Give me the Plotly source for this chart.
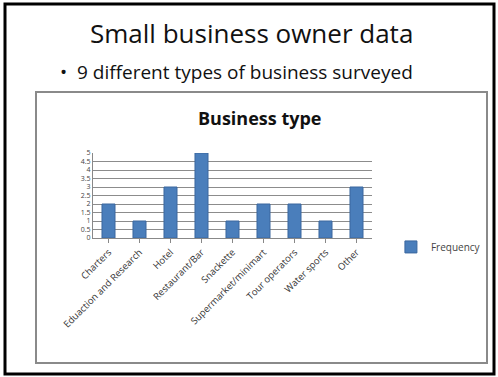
''' Small business owner data slide: business type bar chart '''

import plotly.graph_objects as go

categories = ['Charters', 'Eduaction and Research', 'Hotel', 'Restaurant/Bar', 'Snackette',
              'Supermarket/minimart', 'Tour operators', 'Water sports', 'Other']
frequency = [2, 1, 3, 5, 1, 2, 2, 1, 3]
y_ticks = [0, 0.5, 1, 1.5, 2, 2.5, 3, 3.5, 4, 4.5, 5]
y_labels = ['0', '0.5', '1', '1.5', '2', '2.5', '3', '3.5', '4', '4.5', '5']

W, H = 498, 377
BAR_COLOR = '#4A7EBB'
FONT = 'Open Sans'

fig = go.Figure()
fig.add_trace(go.Bar(
    x=categories,
    y=frequency,
    name='Frequency',
    width=0.42,
    marker=dict(color=BAR_COLOR, line=dict(color='#3A679E', width=1)),
))

fig.update_layout(
    width=W, height=H,
    margin=dict(l=0, r=0, t=0, b=0),
    paper_bgcolor='white',
    plot_bgcolor='white',
    showlegend=True,
    legend=dict(x=0.785, y=0.345, xanchor='left', yanchor='middle',
                font=dict(family=FONT, size=10, color='#444'),
                itemwidth=30, bgcolor='rgba(0,0,0,0)'),
    font=dict(family=FONT, color='#222'),
)

# Plot area placement (paper fractions)
fig.update_xaxes(domain=[93 / W, 372 / W], tickangle=-45, automargin=False,
                 tickfont=dict(family=FONT, size=9.5, color='#333'),
                 showline=True, linecolor='#888', ticks='outside', ticklen=4, tickcolor='#888')
fig.update_yaxes(domain=[(H - 238) / H, (H - 153) / H], range=[0, 5], automargin=False,
                 tickmode='array', tickvals=y_ticks, ticktext=y_labels,
                 tickfont=dict(family=FONT, size=7, color='#444'),
                 showgrid=True, gridcolor='#8C8C8C', gridwidth=1,
                 showline=True, linecolor='#888', zeroline=False)

# Slide frame and chart frame
fig.add_shape(type='rect', xref='paper', yref='paper', x0=5 / W, x1=494 / W, y0=3 / H, y1=373 / H,
              line=dict(color='black', width=3))
fig.add_shape(type='rect', xref='paper', yref='paper', x0=36 / W, x1=487 / W, y0=(H - 363) / H, y1=(H - 92) / H,
              line=dict(color='#8A8A8A', width=2))

# Slide title and bullet
fig.add_annotation(text='Small business owner data', xref='paper', yref='paper',
                   x=252 / W, y=(H - 33) / H, showarrow=False, xanchor='center', yanchor='middle',
                   font=dict(family=FONT, size=26, color='#111'))
fig.add_annotation(text='•  9 different types of business surveyed', xref='paper', yref='paper',
                   x=58 / W, y=(H - 72) / H, showarrow=False, xanchor='left', yanchor='middle',
                   font=dict(family=FONT, size=19, color='#111'))
# Chart title
fig.add_annotation(text='<b>Business type</b>', xref='paper', yref='paper',
                   x=259 / W, y=(H - 118) / H, showarrow=False, xanchor='center', yanchor='middle',
                   font=dict(family=FONT, size=18, color='#111'))

# Page body has a default 8px margin; remove it so the figure fills the window
fig.write_html("out.html", config={'displayModeBar': False},
               post_script="document.body.style.margin='0';")
